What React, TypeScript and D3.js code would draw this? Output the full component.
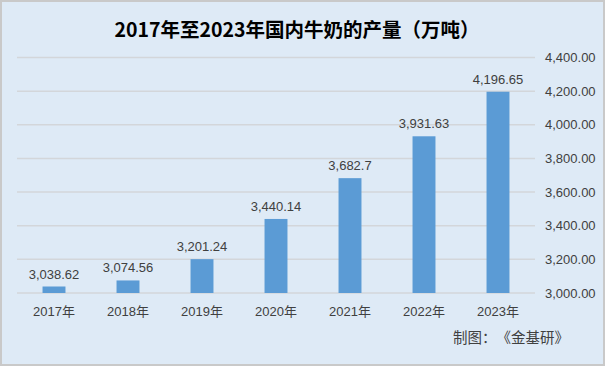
import React, { useRef, useEffect } from 'react'
import * as d3 from 'd3'

const years = ['2017年', '2018年', '2019年', '2020年', '2021年', '2022年', '2023年']
const output = [3038.62, 3074.56, 3201.24, 3440.14, 3682.7, 3931.63, 4196.65]
const outputLabels = ['3,038.62', '3,074.56', '3,201.24', '3,440.14', '3,682.7', '3,931.63', '4,196.65']
const yTicks = [3000, 3200, 3400, 3600, 3800, 4000, 4200, 4400]

const title = '2017年至2023年国内牛奶的产量（万吨）'
const credit = '制图：《金基研》'

const width = 605
const height = 366
const font = '"Liberation Sans", "Noto Sans CJK SC", sans-serif'
const cjkFont = '"Noto Sans CJK SC", sans-serif'

const App: React.FC = () => {
  const node = useRef<SVGSVGElement | null>(null)

  useEffect(() => {
    const svg = d3.select(node.current)
    svg.selectAll('*').remove()

    // panel background + border
    svg
      .append('rect')
      .attr('x', 1)
      .attr('y', 1)
      .attr('width', width - 2)
      .attr('height', height - 2)
      .attr('fill', '#deeaf6')
      .attr('stroke', '#c9c9c9')
      .attr('stroke-width', 2)

    const x = d3.scaleBand().domain(years).range([17, 535]).paddingInner(0.69).paddingOuter(0.345)
    const y = d3.scaleLinear().domain([3000, 4400]).range([293, 57.5])

    // gridlines
    svg
      .append('g')
      .selectAll('line')
      .data(yTicks)
      .join('line')
      .attr('x1', 17)
      .attr('x2', 535)
      .attr('y1', (d) => y(d))
      .attr('y2', (d) => y(d))
      .attr('stroke', '#d3d6da')
      .attr('stroke-width', 1.5)

    // right axis labels
    const yAxis = (g) =>
      g
        .attr('transform', 'translate(542,0)')
        .call(
          d3
            .axisRight(y)
            .tickValues(yTicks)
            .tickSize(0)
            .tickFormat(d3.format(',.2f'))
        )
        .call((g) => g.select('.domain').remove())
        .call((g) =>
          g
            .selectAll('text')
            .attr('fill', '#404040')
            .attr('font-size', 13)
            .attr('font-family', font)
        )
    svg.append('g').call(yAxis)

    // bars
    svg
      .append('g')
      .selectAll('rect')
      .data(output)
      .join('rect')
      .attr('x', (d, i) => x(years[i]))
      .attr('y', (d) => y(d))
      .attr('width', x.bandwidth())
      .attr('height', (d) => y(3000) - y(d))
      .attr('fill', '#5b9bd5')

    // data labels
    svg
      .append('g')
      .selectAll('text')
      .data(output)
      .join('text')
      .attr('x', (d, i) => x(years[i]) + x.bandwidth() / 2)
      .attr('y', (d) => y(d) - 8)
      .attr('text-anchor', 'middle')
      .attr('fill', '#404040')
      .attr('font-size', 13)
      .attr('font-family', font)
      .text((d, i) => outputLabels[i])

    // category labels
    svg
      .append('g')
      .selectAll('text')
      .data(years)
      .join('text')
      .attr('x', (d) => x(d) + x.bandwidth() / 2)
      .attr('y', 316)
      .attr('text-anchor', 'middle')
      .attr('fill', '#404040')
      .attr('font-size', 13)
      .attr('font-family', font)
      .text((d) => d)

    svg
      .append('text')
      .attr('x', 297)
      .attr('y', 37)
      .attr('text-anchor', 'middle')
      .attr('fill', '#000')
      .attr('font-size', 19.5)
      .attr('font-weight', 'bold')
      .attr('font-family', cjkFont)
      .style('text-spacing-trim', 'space-all')
      .text(title)

    svg
      .append('text')
      .attr('x', 453)
      .attr('y', 343)
      .attr('fill', '#404040')
      .attr('font-size', 14.5)
      .attr('font-family', cjkFont)
      .style('text-spacing-trim', 'space-all')
      .text(credit)
  }, [node])

  return (
    <div style={{ position: 'absolute', left: 0, top: 0 }}>
      <svg ref={node} width={width} height={height}></svg>
    </div>
  )
}

export default App
